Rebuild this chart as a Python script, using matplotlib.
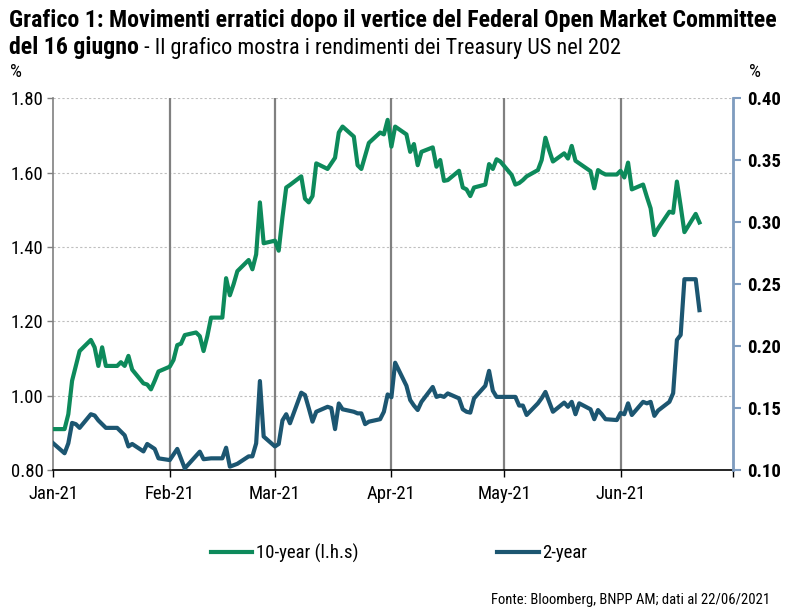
import matplotlib
matplotlib.use("Agg")
import matplotlib.pyplot as plt
import matplotlib.dates as mdates
import pandas as pd

plt.rcParams['font.family'] = ['Roboto Condensed', 'DejaVu Sans']

# 10-year US Treasury yield (left axis)
ten_dates = ["2021-01-01", "2021-01-04", "2021-01-05", "2021-01-06", "2021-01-07", "2021-01-08",
             "2021-01-11", "2021-01-12", "2021-01-13", "2021-01-14", "2021-01-15", "2021-01-18",
             "2021-01-19", "2021-01-20", "2021-01-21", "2021-01-22", "2021-01-25", "2021-01-26",
             "2021-01-27", "2021-01-28", "2021-01-29", "2021-02-01", "2021-02-02", "2021-02-03",
             "2021-02-04", "2021-02-05", "2021-02-08", "2021-02-09", "2021-02-10", "2021-02-11",
             "2021-02-12", "2021-02-15", "2021-02-16", "2021-02-17", "2021-02-18", "2021-02-19",
             "2021-02-22", "2021-02-23", "2021-02-24", "2021-02-25", "2021-02-26", "2021-03-01",
             "2021-03-02", "2021-03-03", "2021-03-04", "2021-03-05", "2021-03-08", "2021-03-09",
             "2021-03-10", "2021-03-11", "2021-03-12", "2021-03-15", "2021-03-16", "2021-03-17",
             "2021-03-18", "2021-03-19", "2021-03-22", "2021-03-23", "2021-03-24", "2021-03-25",
             "2021-03-26", "2021-03-29", "2021-03-30", "2021-03-31", "2021-04-01", "2021-04-02",
             "2021-04-05", "2021-04-06", "2021-04-07", "2021-04-08", "2021-04-09", "2021-04-12",
             "2021-04-13", "2021-04-14", "2021-04-15", "2021-04-16", "2021-04-19", "2021-04-20",
             "2021-04-21", "2021-04-22", "2021-04-23", "2021-04-26", "2021-04-27", "2021-04-28",
             "2021-04-29", "2021-04-30", "2021-05-03", "2021-05-04", "2021-05-05", "2021-05-06",
             "2021-05-07", "2021-05-10", "2021-05-11", "2021-05-12", "2021-05-13", "2021-05-14",
             "2021-05-17", "2021-05-18", "2021-05-19", "2021-05-20", "2021-05-21", "2021-05-24",
             "2021-05-25", "2021-05-26", "2021-05-27", "2021-05-28", "2021-05-31", "2021-06-01",
             "2021-06-02", "2021-06-03", "2021-06-04", "2021-06-07", "2021-06-08", "2021-06-09",
             "2021-06-10", "2021-06-11", "2021-06-14", "2021-06-15", "2021-06-16", "2021-06-17",
             "2021-06-18", "2021-06-21", "2021-06-22"]
ten_vals = [0.91, 0.91, 0.95, 1.04, 1.08, 1.12,
            1.15, 1.13, 1.08, 1.13, 1.08, 1.08,
            1.09, 1.08, 1.107, 1.07, 1.033, 1.03,
            1.017, 1.04, 1.065, 1.078, 1.096, 1.136,
            1.14, 1.163, 1.17, 1.16, 1.12, 1.16,
            1.21, 1.21, 1.316, 1.27, 1.30, 1.335,
            1.365, 1.34, 1.38, 1.52, 1.41, 1.417,
            1.39, 1.48, 1.56, 1.567, 1.59, 1.53,
            1.52, 1.537, 1.625, 1.61, 1.625, 1.64,
            1.708, 1.724, 1.697, 1.62, 1.61, 1.645,
            1.68, 1.708, 1.703, 1.742, 1.67, 1.724,
            1.703, 1.656, 1.677, 1.62, 1.656, 1.668,
            1.616, 1.634, 1.578, 1.58, 1.605, 1.56,
            1.555, 1.537, 1.56, 1.568, 1.623, 1.61,
            1.636, 1.63, 1.594, 1.568, 1.572, 1.58,
            1.59, 1.607, 1.634, 1.694, 1.66, 1.63,
            1.652, 1.638, 1.672, 1.632, 1.625, 1.604,
            1.558, 1.607, 1.60, 1.595, 1.595, 1.605,
            1.587, 1.627, 1.555, 1.568, 1.535, 1.504,
            1.432, 1.45, 1.495, 1.492, 1.576, 1.51,
            1.44, 1.489, 1.466]

# 2-year US Treasury yield (right axis)
two_dates = ["2021-01-01", "2021-01-04", "2021-01-05", "2021-01-06", "2021-01-07", "2021-01-08",
             "2021-01-11", "2021-01-12", "2021-01-13", "2021-01-15", "2021-01-18", "2021-01-20",
             "2021-01-21", "2021-01-22", "2021-01-25", "2021-01-26", "2021-01-28", "2021-01-29",
             "2021-02-01", "2021-02-03", "2021-02-05", "2021-02-09", "2021-02-10", "2021-02-12",
             "2021-02-15", "2021-02-16", "2021-02-17", "2021-02-19", "2021-02-22", "2021-02-23",
             "2021-02-24", "2021-02-25", "2021-02-26", "2021-03-01", "2021-03-02", "2021-03-03",
             "2021-03-04", "2021-03-05", "2021-03-08", "2021-03-09", "2021-03-10", "2021-03-11",
             "2021-03-12", "2021-03-15", "2021-03-16", "2021-03-17", "2021-03-18", "2021-03-19",
             "2021-03-22", "2021-03-23", "2021-03-24", "2021-03-25", "2021-03-26", "2021-03-29",
             "2021-03-30", "2021-03-31", "2021-04-01", "2021-04-02", "2021-04-05", "2021-04-06",
             "2021-04-07", "2021-04-08", "2021-04-09", "2021-04-12", "2021-04-13", "2021-04-14",
             "2021-04-15", "2021-04-16", "2021-04-19", "2021-04-20", "2021-04-21", "2021-04-22",
             "2021-04-23", "2021-04-26", "2021-04-27", "2021-04-28", "2021-04-29", "2021-04-30",
             "2021-05-03", "2021-05-04", "2021-05-05", "2021-05-06", "2021-05-07", "2021-05-10",
             "2021-05-11", "2021-05-12", "2021-05-13", "2021-05-14", "2021-05-17", "2021-05-18",
             "2021-05-19", "2021-05-20", "2021-05-21", "2021-05-24", "2021-05-25", "2021-05-26",
             "2021-05-27", "2021-05-28", "2021-05-31", "2021-06-01", "2021-06-02", "2021-06-03",
             "2021-06-04", "2021-06-07", "2021-06-08", "2021-06-09", "2021-06-10", "2021-06-11",
             "2021-06-14", "2021-06-15", "2021-06-16", "2021-06-17", "2021-06-18", "2021-06-21",
             "2021-06-22"]
two_vals = [0.1215, 0.1135, 0.1215, 0.138, 0.137, 0.134,
            0.145, 0.144, 0.14, 0.134, 0.134, 0.128,
            0.119, 0.121, 0.115, 0.121, 0.117, 0.1094,
            0.108, 0.117, 0.1013, 0.1148, 0.1087, 0.1094,
            0.1094, 0.118, 0.1027, 0.105, 0.111, 0.111,
            0.1215, 0.1718, 0.127, 0.119, 0.121, 0.140,
            0.145, 0.1377, 0.1624, 0.1605, 0.150, 0.139,
            0.147, 0.151, 0.150, 0.133, 0.1537, 0.149,
            0.147, 0.1457, 0.1457, 0.137, 0.139, 0.141,
            0.147, 0.161, 0.1587, 0.1866, 0.168, 0.1565,
            0.152, 0.1484, 0.155, 0.167, 0.159, 0.160,
            0.159, 0.1618, 0.1578, 0.149, 0.147, 0.1463,
            0.1578, 0.168, 0.180, 0.164, 0.159, 0.159,
            0.159, 0.159, 0.152, 0.152, 0.1444, 0.1538,
            0.158, 0.163, 0.155, 0.147, 0.1544, 0.151,
            0.155, 0.145, 0.1538, 0.149, 0.141, 0.1484,
            0.145, 0.141, 0.1403, 0.146, 0.145, 0.1538,
            0.1444, 0.155, 0.1538, 0.155, 0.1437, 0.148,
            0.155, 0.162, 0.205, 0.209, 0.254, 0.254,
            0.229]

month_ticks = ["2021-01-01", "2021-02-01", "2021-03-01", "2021-04-01", "2021-05-01", "2021-06-01", "2021-07-01"]
left_ticks = [0.80, 1.00, 1.20, 1.40, 1.60, 1.80]
right_ticks = [0.10, 0.15, 0.20, 0.25, 0.30, 0.35, 0.40]

GREEN = '#0d8a5b'
BLUE = '#1c5671'

ten_x = pd.to_datetime(ten_dates)
two_x = pd.to_datetime(two_dates)
months = pd.to_datetime(month_ticks)

fig = plt.figure(figsize=(7.86, 6.13), dpi=100)
ax = fig.add_axes([0.0678, 0.2333, 0.8651, 0.6063])
ax2 = ax.twinx()

# grid and month separators
for v in left_ticks[1:]:
    ax.axhline(v, color='#bfbfbf', lw=0.8, ls=(0, (2, 2)), zorder=1)
for m in months[1:-1]:
    ax.axvline(m, color='#808080', lw=1.6, zorder=1)

ax.plot(ten_x, ten_vals, color=GREEN, lw=3.0, label='10-year (l.h.s)', zorder=3, solid_joinstyle='round')
ax2.plot(two_x, two_vals, color=BLUE, lw=3.0, label='2-year', zorder=3, solid_joinstyle='round')

ax.set_xlim(months[0], months[-1])
ax.set_ylim(0.8, 1.8)
ax2.set_ylim(0.10, 0.40)

ax.set_xticks(months[:-1])
ax.xaxis.set_major_formatter(mdates.DateFormatter('%b-%y'))
ax.xaxis.set_minor_locator(plt.FixedLocator([mdates.date2num(months[-1])]))
ax.tick_params(axis='x', which='both', direction='out', length=5, width=1, colors='black',
               labelsize=13.5, pad=6)
ax.set_yticks(left_ticks)
ax.set_yticklabels([f"{v:.2f}" for v in left_ticks])
ax.tick_params(axis='y', direction='out', length=4, width=1, color='#808080', labelsize=13.5, pad=3)

ax2.set_yticks(right_ticks)
ax2.set_yticklabels([f"{v:.2f}" for v in right_ticks], fontweight='bold')
ax2.tick_params(axis='y', direction='out', length=6, width=1.5, color='#7f9cbf', labelsize=13.5, pad=4)

for a in (ax, ax2):
    a.spines['top'].set_visible(False)
ax.spines['left'].set_color('#808080')
ax.spines['left'].set_linewidth(1.2)
ax.spines['bottom'].set_color('black')
ax.spines['bottom'].set_linewidth(1.2)
ax2.spines['right'].set_color('#7f9cbf')
ax2.spines['right'].set_linewidth(2)
ax2.spines['left'].set_visible(False)
ax2.spines['bottom'].set_visible(False)

fig.text(0.012, 0.966, "Grafico 1: Movimenti erratici dopo il vertice del Federal Open Market Committee",
         fontsize=17.2, fontweight='bold', va='center', ha='left')
bold_part = fig.text(0.012, 0.922, "del 16 giugno", fontsize=17.2, fontweight='bold', va='center', ha='left')
fig.canvas.draw()
bb = bold_part.get_window_extent()
fig.text(bb.x1 / fig.bbox.width, 0.922, " - Il grafico mostra i rendimenti dei Treasury US nel 202",
         fontsize=16, va='center', ha='left')
fig.text(0.013, 0.883, "%", fontsize=13.5, va='center', ha='left')
fig.text(0.953, 0.883, "%", fontsize=13.5, va='center', ha='left')

h1, l1 = ax.get_legend_handles_labels()
h2, l2 = ax2.get_legend_handles_labels()
fig.legend(h1 + h2, l1 + l2, loc='center', bbox_to_anchor=(0.508, 0.098), ncol=2, frameon=False,
           fontsize=13.5, handlelength=2.2, handletextpad=0.2, columnspacing=7.4)

fig.text(0.98, 0.021, "Fonte: Bloomberg, BNPP AM; dati al 22/06/2021", fontsize=10.5,
         ha='right', va='center')

fig.savefig('out.png', dpi=100)
